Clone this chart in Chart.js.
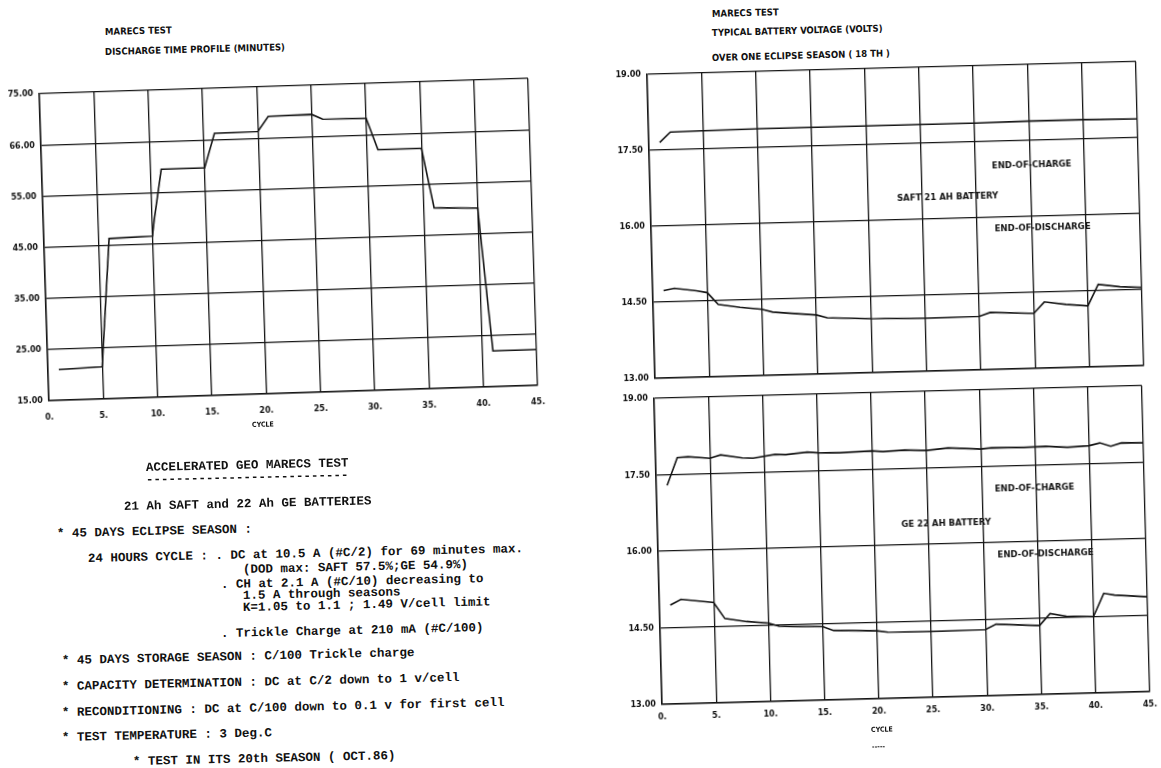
<!DOCTYPE html>
<html>
<head>
<meta charset="utf-8">
<title>MARECS test</title>
<script src="https://cdn.jsdelivr.net/npm/chart.js@4.4.1/dist/chart.umd.min.js"></script>
<style>
    html, body { margin: 0; padding: 0; background: #fff; }
    body { width: 1161px; height: 768px; position: relative; overflow: hidden; color: #111; }
    .plot { position: absolute; }
    .plot canvas { display: block; }
    .cap {
        position: absolute; white-space: pre;
        font: bold 9.5px 'DejaVu Sans Condensed', 'DejaVu Sans', sans-serif;
        line-height: 12px;
        transform-origin: 0 50%; transform: rotate(-1.5deg);
    }
    .small { font-size: 7px; }
    .note {
        position: absolute; white-space: pre;
        font: bold 12.5px 'Liberation Mono', 'DejaVu Sans Mono', monospace;
        line-height: 14px;
        transform-origin: 0 50%; transform: rotate(-1.3deg);
    }
</style>
</head>
<body>

<!-- left page: discharge time profile -->
<div class="cap" style="left:105px; top:26px;">MARECS TEST</div>
<div class="cap" style="left:105px; top:46px;">DISCHARGE TIME PROFILE (MINUTES)</div>
<div class="plot" style="left:0; top:66px; width:551px; height:353px; transform-origin:290.5px 173.5px; transform:rotate(-1.8deg);">
    <canvas id="dischargeChart" width="551" height="353"></canvas>
</div>
<div class="cap small" style="left:252px; top:419px;">CYCLE</div>

<div class="note" style="left:146px; top:461px;">ACCELERATED GEO MARECS TEST</div>
<div class="note" style="left:146px; top:473px;">---------------------------</div>
<div class="note" style="left:124px; top:500px;">21 Ah SAFT and 22 Ah GE BATTERIES</div>
<div class="note" style="left:57px; top:527px;">* 45 DAYS ECLIPSE SEASON :</div>
<div class="note" style="left:88px; top:552px;">24 HOURS CYCLE : . DC at 10.5 A (#C/2) for 69 minutes max.</div>
<div class="note" style="left:243px; top:563px;">(DOD max: SAFT 57.5%;GE 54.9%)</div>
<div class="note" style="left:221px; top:578px;">. CH at 2.1 A (#C/10) decreasing to</div>
<div class="note" style="left:243px; top:589px;">1.5 A through seasons</div>
<div class="note" style="left:243px; top:601px;">K=1.05 to 1.1 ; 1.49 V/cell limit</div>
<div class="note" style="left:221px; top:627px;">. Trickle Charge at 210 mA (#C/100)</div>
<div class="note" style="left:62px; top:654px;">* 45 DAYS STORAGE SEASON : C/100 Trickle charge</div>
<div class="note" style="left:62px; top:680px;">* CAPACITY DETERMINATION : DC at C/2 down to 1 v/cell</div>
<div class="note" style="left:62px; top:706px;">* RECONDITIONING : DC at C/100 down to 0.1 v for first cell</div>
<div class="note" style="left:62px; top:731px;">* TEST TEMPERATURE : 3 Deg.C</div>
<div class="note" style="left:133px; top:755px;">* TEST IN ITS 20th SEASON ( OCT.86)</div>

<!-- right page: battery voltages -->
<div class="cap" style="left:712px; top:8px;">MARECS TEST</div>
<div class="cap" style="left:712px; top:27px;">TYPICAL BATTERY VOLTAGE (VOLTS)</div>
<div class="cap" style="left:712px; top:52px;">OVER ONE ECLIPSE SEASON ( 18 TH )</div>
<div class="plot" style="left:600px; top:50px; width:552px; height:333px; transform-origin:295.5px 172.5px; transform:rotate(-1.5deg);">
    <canvas id="saftChart" width="552" height="333"></canvas>
</div>
<div class="plot" style="left:600px; top:376px; width:560px; height:348px; transform-origin:303px 171px; transform:rotate(-1.5deg);">
    <canvas id="geChart" width="560" height="348"></canvas>
</div>
<div class="cap small" style="left:871px; top:724px;">CYCLE</div>
<div class="cap small" style="left:872px; top:741px;">-----</div>

<script>
// ---- data ----

// discharge time profile (minutes)
const dischargeCycles = [1, 5, 6, 10, 10.2, 11, 15, 16, 20, 21, 25, 26, 30, 31, 35, 36, 40, 41, 45];
const dischargeMinutes = [21, 21.3, 46.3, 46.5, 49.5, 59.5, 59.5, 66.2, 66.3, 69.2, 69.3, 68.3, 68.2, 62, 62, 50.3, 50, 22, 22];
const dischargeTickValues = [15, 25, 35, 45, 55, 65, 75];
const dischargeTickLabels = ['15.00', '25.00', '35.00', '45.00', '55.00', '66.00', '75.00'];

// SAFT 21 Ah battery voltage
const saftChargeCycles = [1, 2, 5, 10, 15, 20, 25, 30, 35, 40, 45];
const saftChargeVolts = [17.65, 17.85, 17.86, 17.87, 17.87, 17.87, 17.87, 17.87, 17.88, 17.88, 17.87];
const saftDischargeCycles = [1, 2, 4, 5, 6, 8, 10, 11, 15, 16, 20, 25, 30, 31, 35, 36, 38, 40, 41, 43, 45];
const saftDischargeVolts = [14.72, 14.76, 14.70, 14.66, 14.42, 14.35, 14.30, 14.24, 14.16, 14.10, 14.06, 14.04, 14.05, 14.12, 14.08, 14.30, 14.24, 14.20, 14.62, 14.56, 14.54];

// GE 22 Ah battery voltage
const geChargeCycles = [1, 2, 3, 5, 6, 8, 9, 11, 12, 14, 15, 17, 20, 21, 23, 25, 27, 30, 31, 34, 36, 38, 40, 41, 42, 43, 45];
const geChargeVolts = [17.29, 17.83, 17.84, 17.80, 17.86, 17.79, 17.78, 17.84, 17.83, 17.87, 17.85, 17.84, 17.86, 17.84, 17.86, 17.84, 17.88, 17.84, 17.86, 17.85, 17.86, 17.83, 17.85, 17.90, 17.83, 17.89, 17.88];
const geDischargeCycles = [1, 2, 5, 6, 8, 10, 11, 12, 15, 16, 20, 21, 25, 30, 31, 35, 36, 37.5, 40, 41, 42, 45];
const geDischargeVolts = [14.94, 15.05, 14.97, 14.65, 14.58, 14.54, 14.47, 14.46, 14.44, 14.36, 14.33, 14.30, 14.29, 14.30, 14.40, 14.35, 14.58, 14.52, 14.50, 14.95, 14.91, 14.86];

// in-plot captions (text, cycle, volts)
const saftNotes = ['END-OF-CHARGE', 'SAFT 21 AH BATTERY', 'END-OF-DISCHARGE'];
const saftNoteCycles = [31.5, 22.7, 31.6];
const saftNoteVolts = [17.02, 16.42, 15.76];
const geNotes = ['END-OF-CHARGE', 'GE 22 AH BATTERY', 'END-OF-DISCHARGE'];
const geNoteCycles = [31.2, 22.5, 31.3];
const geNoteVolts = [17.05, 16.40, 15.75];

// ---- drawing ----
const INK = '#141414';
const plotFont = { family: "'DejaVu Sans Condensed', 'DejaVu Sans', sans-serif", size: 9, weight: 'bold' };

// draws the captions inside the plot area using the chart's own scales
const plotNotes = {
    id: 'plotNotes',
    afterDatasetsDraw(chart, args, opts) {
        if (!opts.texts) return;
        const { ctx, scales: { x, y } } = chart;
        ctx.save();
        ctx.font = 'bold 9.5px ' + plotFont.family;
        ctx.fillStyle = INK;
        ctx.textBaseline = 'middle';
        opts.texts.forEach((t, i) => {
            ctx.fillText(t, x.getPixelForValue(opts.cycles[i]), y.getPixelForValue(opts.values[i]));
        });
        ctx.restore();
    }
};

function toPoints(xs, ys) {
    return xs.map((x, i) => ({ x: x, y: ys[i] }));
}

function lineSet(xs, ys) {
    return {
        data: toPoints(xs, ys),
        borderColor: INK,
        borderWidth: 1.6,
        pointRadius: 0,
        tension: 0,
        fill: false
    };
}

function cycleAxis(showLabels, pad) {
    return {
        type: 'linear', min: 0, max: 45,
        grid: { color: INK, lineWidth: 1.3, drawTicks: false },
        border: { color: INK, width: 1.5 },
        ticks: {
            display: showLabels, stepSize: 5, padding: pad, maxRotation: 0, autoSkip: false,
            color: INK, font: plotFont,
            callback: v => v + '.'
        },
        afterFit: s => { s.height = showLabels ? 22 : 0; }
    };
}

function valueAxis(min, max, step, width, label) {
    return {
        type: 'linear', min: min, max: max,
        grid: { color: INK, lineWidth: 1.3, drawTicks: false },
        border: { color: INK, width: 1.5 },
        ticks: { stepSize: step, padding: 6, color: INK, font: plotFont, callback: label },
        afterFit: s => { s.width = width; }
    };
}

function makeChart(id, datasets, xAxis, yAxis, padding, notes) {
    return new Chart(document.getElementById(id), {
        type: 'line',
        data: { datasets: datasets },
        options: {
            responsive: false,
            animation: false,
            layout: { padding: padding },
            scales: { x: xAxis, y: yAxis },
            plugins: {
                legend: { display: false },
                tooltip: { enabled: false },
                plotNotes: notes || {}
            }
        },
        plugins: [plotNotes]
    });
}

const voltLabel = v => Number(v).toFixed(2);

makeChart('dischargeChart',
    [lineSet(dischargeCycles, dischargeMinutes)],
    cycleAxis(true, 11),
    valueAxis(15, 75, 10, 44, v => {
        const i = dischargeTickValues.indexOf(Math.round(v));
        return i >= 0 ? dischargeTickLabels[i] : '';
    }),
    { left: 0, top: 20, right: 14, bottom: 4 });

makeChart('saftChart',
    [lineSet(saftChargeCycles, saftChargeVolts), lineSet(saftDischargeCycles, saftDischargeVolts)],
    cycleAxis(false, 0),
    valueAxis(13, 19, 1.5, 51, voltLabel),
    { left: 0, top: 18, right: 12, bottom: 6 },
    { texts: saftNotes, cycles: saftNoteCycles, values: saftNoteVolts });

makeChart('geChart',
    [lineSet(geChargeCycles, geChargeVolts), lineSet(geDischargeCycles, geDischargeVolts)],
    cycleAxis(true, 7),
    valueAxis(13, 19, 1.5, 58, voltLabel),
    { left: 0, top: 16, right: 12, bottom: 4 },
    { texts: geNotes, cycles: geNoteCycles, values: geNoteVolts });
</script>
</body>
</html>
